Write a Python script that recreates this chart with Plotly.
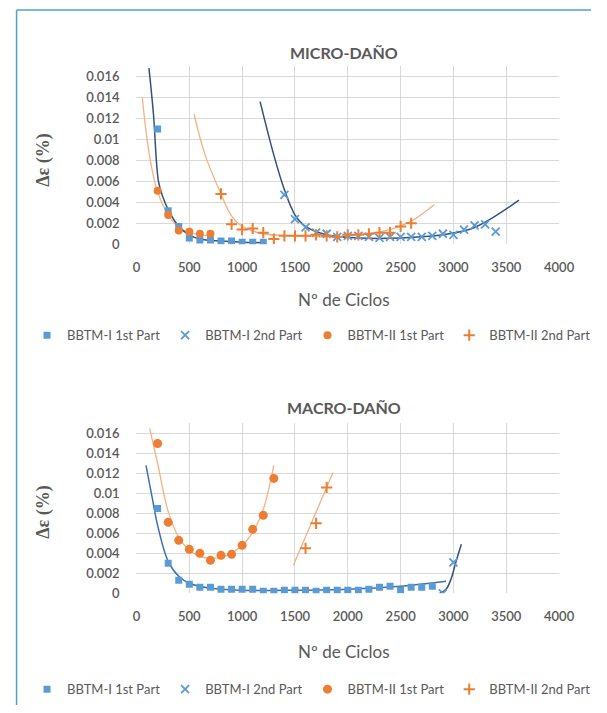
import plotly.graph_objects as go

# ---------------- DATA ----------------
# MICRO-DAÑO
micro_b1_x = [200, 300, 400, 500, 600, 700, 800, 900, 1000, 1100, 1200]
micro_b1_y = [0.011, 0.0032, 0.0017, 0.0006, 0.0004, 0.0004, 0.0003, 0.0003, 0.0002, 0.0002, 0.0002]
micro_b2_x = [1400, 1500, 1600, 1700, 1800, 1900, 2000, 2100, 2200, 2300, 2400,
              2500, 2600, 2700, 2800, 2900, 3000, 3100, 3200, 3300, 3400]
micro_b2_y = [0.0047, 0.0024, 0.0016, 0.0011, 0.0010, 0.0007, 0.0008, 0.0008, 0.0007, 0.0006, 0.0007,
              0.0007, 0.0007, 0.0007, 0.0008, 0.0010, 0.0009, 0.0014, 0.0018, 0.0019, 0.0012]
micro_o1_x = [200, 300, 400, 500, 600, 700]
micro_o1_y = [0.0051, 0.0028, 0.0013, 0.0012, 0.0010, 0.0010]
micro_o2_x = [800, 900, 1000, 1100, 1200, 1300, 1400, 1500, 1600, 1700, 1800, 1900,
              2000, 2100, 2200, 2300, 2400, 2500, 2600]
micro_o2_y = [0.0048, 0.0019, 0.0014, 0.0015, 0.0011, 0.0005, 0.0008, 0.0008, 0.0008, 0.0009, 0.0008, 0.0007,
              0.0009, 0.0009, 0.0010, 0.0011, 0.0011, 0.0017, 0.0020]

# trend lines
micro_b1_tx = [118, 160, 208, 250, 300, 400, 500, 600, 800, 1000, 1200]
micro_b1_ty = [0.0168, 0.0125, 0.0060, 0.0045, 0.0033, 0.0017, 0.0009, 0.0005, 0.0003, 0.0002, 0.00015]
micro_b2_tx = [1170, 1300, 1400, 1500, 1600, 1800, 2100, 2500, 2900, 3200, 3620]
micro_b2_ty = [0.0136, 0.0085, 0.0052, 0.0028, 0.0017, 0.0009, 0.0006, 0.0006, 0.0009, 0.0016, 0.0042]
micro_o1_tx = [55, 100, 150, 200, 300, 400, 500, 600, 700]
micro_o1_ty = [0.0140, 0.0100, 0.0070, 0.0050, 0.0028, 0.0016, 0.0011, 0.0009, 0.0008]
micro_o2_tx = [545, 650, 800, 900, 1000, 1200, 1500, 1800, 2100, 2400, 2600, 2820]
micro_o2_ty = [0.0124, 0.0085, 0.0048, 0.0027, 0.0017, 0.0010, 0.0008, 0.0007, 0.0009, 0.0014, 0.0022, 0.0038]

# MACRO-DAÑO
macro_b1_x = [200, 300, 400, 500, 600, 700, 800, 900, 1000, 1100, 1200, 1300, 1400, 1500,
              1600, 1700, 1800, 1900, 2000, 2100, 2200, 2300, 2400, 2500, 2600, 2700, 2800]
macro_b1_y = [0.0085, 0.0030, 0.0013, 0.0009, 0.0006, 0.0006, 0.0004, 0.0004, 0.0004, 0.0004, 0.0002,
              0.0002, 0.0003, 0.0003, 0.0003, 0.0002, 0.0003, 0.0003, 0.0003, 0.0003, 0.0004,
              0.0006, 0.0007, 0.0003, 0.0006, 0.0006, 0.0007]
macro_b2_x = [2900, 3000]
macro_b2_y = [0.0000, 0.0031]
macro_o1_x = [200, 300, 400, 500, 600, 700, 800, 900, 1000, 1100, 1200, 1300]
macro_o1_y = [0.0150, 0.0071, 0.0053, 0.0044, 0.0040, 0.0033, 0.0038, 0.0039, 0.0048, 0.0064, 0.0078, 0.0115]
macro_o2_x = [1600, 1700, 1800]
macro_o2_y = [0.0045, 0.0070, 0.0106]

macro_b1_tx = [90, 150, 200, 300, 400, 500, 700, 1000, 1500, 2000, 2500, 2930]
macro_b1_ty = [0.0128, 0.0095, 0.0068, 0.0032, 0.0017, 0.0010, 0.0005, 0.0003, 0.0003, 0.0004, 0.0007, 0.0012]
macro_b2_tx = [2870, 2930, 2980, 3020, 3075]
macro_b2_ty = [0.0000, 0.0004, 0.0015, 0.0030, 0.0049]
macro_o1_tx = [125, 200, 300, 400, 500, 600, 700, 800, 900, 1000, 1100, 1200, 1300]
macro_o1_ty = [0.0165, 0.0130, 0.0082, 0.0056, 0.0043, 0.0037, 0.0035, 0.0036, 0.0040, 0.0048, 0.0061, 0.0084, 0.0128]
macro_o2_tx = [1485, 1860]
macro_o2_ty = [0.0028, 0.0121]

series_names = ["BBTM-I 1st Part", "BBTM-I 2nd Part", "BBTM-II 1st Part", "BBTM-II 2nd Part"]
x_tick_vals = [0, 500, 1000, 1500, 2000, 2500, 3000, 3500, 4000]
y_tick_vals = [0, 0.002, 0.004, 0.006, 0.008, 0.01, 0.012, 0.014, 0.016]
y_tick_text = ["0", "0.002", "0.004", "0.006", "0.008", "0.01", "0.012", "0.014", "0.016"]

# ---------------- STYLE ----------------
W, H = 607, 713
BLUE = "#5B9BD5"
ORANGE = "#ED7D31"
DARKBLUE = "#34507F"
LIGHTOR = "#F4B183"
GRID = "#D9D9D9"
TXT = "#595959"
FONT = "Lato"

def px_x(p):
    return p / W

def px_y(p):
    return 1 - p / H

fig = go.Figure()

def add_marks(x, y, name, symbol, color, size, ax, legend, lw=0):
    fig.add_trace(go.Scatter(
        x=x, y=y, mode="markers", name=name,
        marker=dict(symbol=symbol, color=color, size=size,
                    line=dict(color=color, width=lw)),
        xaxis="x" + ax, yaxis="y" + ax, legend=legend, showlegend=True))

def add_trend(x, y, color, ax, width=1.5):
    fig.add_trace(go.Scatter(
        x=x, y=y, mode="lines", line=dict(color=color, width=width, shape="spline", smoothing=1.0),
        xaxis="x" + ax, yaxis="y" + ax, showlegend=False, hoverinfo="skip"))

# top (MICRO)
add_trend(micro_o1_tx, micro_o1_ty, LIGHTOR, "", 1.3)
add_trend(micro_o2_tx, micro_o2_ty, LIGHTOR, "", 1.3)
add_trend(micro_b1_tx, micro_b1_ty, DARKBLUE, "", 1.5)
add_trend(micro_b2_tx, micro_b2_ty, DARKBLUE, "", 1.5)
add_marks(micro_b1_x, micro_b1_y, series_names[0], "square", BLUE, 7, "", "legend")
add_marks(micro_b2_x, micro_b2_y, series_names[1], "x-thin-open", BLUE, 8, "", "legend", 1.8)
add_marks(micro_o1_x, micro_o1_y, series_names[2], "circle", ORANGE, 8, "", "legend")
add_marks(micro_o2_x, micro_o2_y, series_names[3], "cross-thin-open", ORANGE, 8, "", "legend", 2)

# bottom (MACRO)
add_trend(macro_o1_tx, macro_o1_ty, LIGHTOR, "2", 1.3)
add_trend(macro_o2_tx, macro_o2_ty, LIGHTOR, "2", 1.3)
add_trend(macro_b1_tx, macro_b1_ty, "#3F6FB0", "2", 1.5)
add_trend(macro_b2_tx, macro_b2_ty, DARKBLUE, "2", 1.5)
add_marks(macro_b1_x, macro_b1_y, series_names[0], "square", BLUE, 7, "2", "legend2")
add_marks(macro_b2_x, macro_b2_y, series_names[1], "x-thin-open", BLUE, 8, "2", "legend2", 1.8)
add_marks(macro_o1_x, macro_o1_y, series_names[2], "circle", ORANGE, 9, "2", "legend2")
add_marks(macro_o2_x, macro_o2_y, series_names[3], "cross-thin-open", ORANGE, 8, "2", "legend2", 2)

xdom = [px_x(137), px_x(574)]
ytop0, ytopk = 247, 10.6       # pixel of 0, px per 0.001
ybot0, ybotk = 600, 10.1
YMAX = 0.017

def xaxis_cfg(anchor):
    return dict(domain=xdom, range=[0, 4000], tickvals=x_tick_vals, showgrid=True,
                gridcolor=GRID, gridwidth=1, zeroline=False, showline=False,
                tickfont=dict(family=FONT, size=13, color=TXT, weight=600), ticks="",
                ticklabelstandoff=14, anchor=anchor, fixedrange=True)

def yaxis_cfg(p0, k, anchor):
    return dict(domain=[px_y(p0), px_y(p0 - YMAX * 1000 * k)], range=[0, YMAX],
                tickvals=y_tick_vals, ticktext=y_tick_text, showgrid=True,
                gridcolor=GRID, gridwidth=1, zeroline=False, showline=False,
                tickfont=dict(family=FONT, size=13, color=TXT, weight=600), ticks="",
                ticklabelstandoff=16, anchor=anchor, fixedrange=True)

legend_common = dict(orientation="h", xanchor="center", yanchor="middle",
                     font=dict(family=FONT, size=13, color=TXT),
                     bgcolor="rgba(0,0,0,0)", itemwidth=30, tracegroupgap=0)

def ann(text, x, y, size, angle=0, family=FONT, weight="normal"):
    return dict(text=text, x=px_x(x), y=px_y(y), xref="paper", yref="paper",
                showarrow=False, textangle=angle, xanchor="center", yanchor="middle",
                font=dict(family=family, size=size, color=TXT, weight=weight))

fig.update_layout(
    width=W, height=H, margin=dict(l=0, r=0, t=0, b=0),
    paper_bgcolor="white", plot_bgcolor="white",
    xaxis=xaxis_cfg("y"), yaxis=yaxis_cfg(ytop0, ytopk, "x"),
    xaxis2=xaxis_cfg("y2"), yaxis2=yaxis_cfg(ybot0, ybotk, "x2"),
    legend=dict(x=px_x(318), y=px_y(339), **legend_common),
    legend2=dict(x=px_x(318), y=px_y(697), **legend_common),
    annotations=[
        ann("MICRO-DAÑO", 352, 53, 16, weight="bold"),
        ann("Nº de Ciclos", 352, 303, 17),
        ann("Δε (%)", 41, 162, 18, -90, "Liberation Serif", "bold"),
        ann("MACRO-DAÑO", 352, 412, 16, weight="bold"),
        ann("Nº de Ciclos", 352, 659, 17),
        ann("Δε (%)", 41, 518, 18, -90, "Liberation Serif", "bold"),
    ],
    shapes=[
        dict(type="line", xref="paper", yref="paper", x0=px_x(13), x1=1, y0=px_y(10), y1=px_y(10),
             line=dict(color="#4FA3C4", width=1.5)),
        dict(type="line", xref="paper", yref="paper", x0=px_x(13), x1=px_x(13), y0=px_y(10), y1=0,
             line=dict(color="#4FA3C4", width=1.5)),
    ],
    showlegend=True,
)

fig.write_html("out.html",
               config={"displayModeBar": False},
               post_script="document.body.style.margin='0';document.body.style.padding='0';"
                           "document.documentElement.style.overflow='hidden';")
